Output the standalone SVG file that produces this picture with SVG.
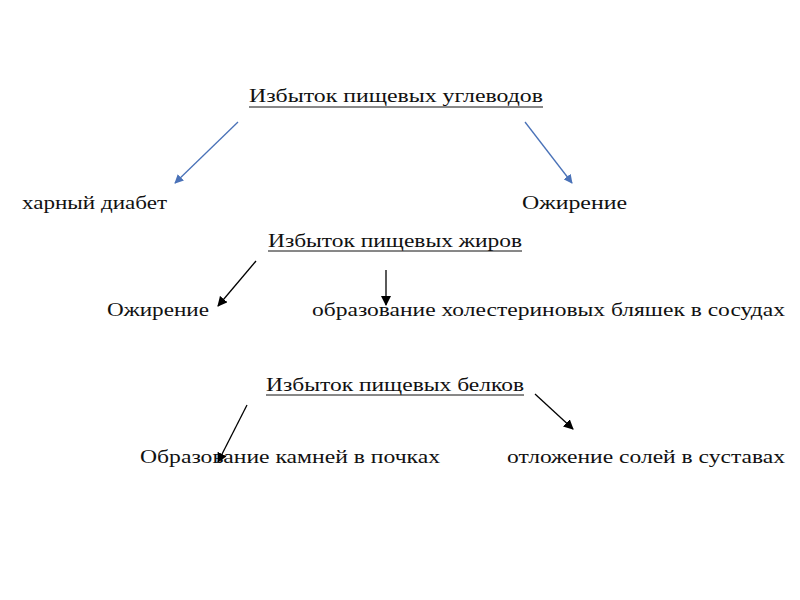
<svg xmlns="http://www.w3.org/2000/svg" width="800" height="600" viewBox="0 0 800 600">
<style>
text{font-family:"Liberation Serif","Times New Roman",serif;font-size:18px;fill:#111}
.u{stroke:#111;stroke-width:1}
.b{stroke:#4a72b8;stroke-width:1.3;fill:none}
.k{stroke:#000;stroke-width:1.3;fill:none}
</style>
<defs>
<marker id="ab" viewBox="0 0 10 10" refX="9" refY="5" markerWidth="9" markerHeight="9" markerUnits="userSpaceOnUse" orient="auto"><path d="M0,0L10,5L0,10z" fill="#4a72b8"/></marker>
<marker id="ak" viewBox="0 0 10 10" refX="9" refY="5" markerWidth="10" markerHeight="10" markerUnits="userSpaceOnUse" orient="auto"><path d="M0,0L10,5L0,10z" fill="#000"/></marker>
</defs>
<rect width="800" height="600" fill="#fff"/>
<g id="n1"><text x="249" y="102" textLength="294" lengthAdjust="spacingAndGlyphs">Избыток пищевых углеводов</text><line class="u" x1="249" y1="107" x2="543" y2="107"/></g>
<g id="n2"><text x="22" y="209" textLength="145" lengthAdjust="spacingAndGlyphs">харный диабет</text></g>
<g id="n3"><text x="522" y="209" textLength="105" lengthAdjust="spacingAndGlyphs">Ожирение</text></g>
<g id="n4"><text x="268" y="247" textLength="254" lengthAdjust="spacingAndGlyphs">Избыток пищевых жиров</text><line class="u" x1="268" y1="251" x2="522" y2="251"/></g>
<g id="n5"><text x="107" y="316" textLength="102" lengthAdjust="spacingAndGlyphs">Ожирение</text></g>
<g id="n6"><text x="312" y="316" textLength="473" lengthAdjust="spacingAndGlyphs">образование холестериновых бляшек в сосудах</text></g>
<g id="n7"><text x="266" y="391" textLength="258" lengthAdjust="spacingAndGlyphs">Избыток пищевых белков</text><line class="u" x1="266" y1="395" x2="524" y2="395"/></g>
<g id="n8"><text x="140" y="463" textLength="300" lengthAdjust="spacingAndGlyphs">Образование камней в почках</text></g>
<g id="n9"><text x="507" y="463" textLength="278" lengthAdjust="spacingAndGlyphs">отложение солей в суставах</text></g>
<g id="connectors">
<line class="b" x1="238" y1="122" x2="175" y2="183" marker-end="url(#ab)"/>
<line class="b" x1="525" y1="122" x2="572" y2="183" marker-end="url(#ab)"/>
<line class="k" x1="256" y1="261" x2="218" y2="306" marker-end="url(#ak)"/>
<line class="k" x1="386" y1="270" x2="386" y2="305" marker-end="url(#ak)"/>
<line class="k" x1="247" y1="405" x2="218" y2="462" marker-end="url(#ak)"/>
<line class="k" x1="535" y1="394" x2="573" y2="429" marker-end="url(#ak)"/>
</g>
</svg>
